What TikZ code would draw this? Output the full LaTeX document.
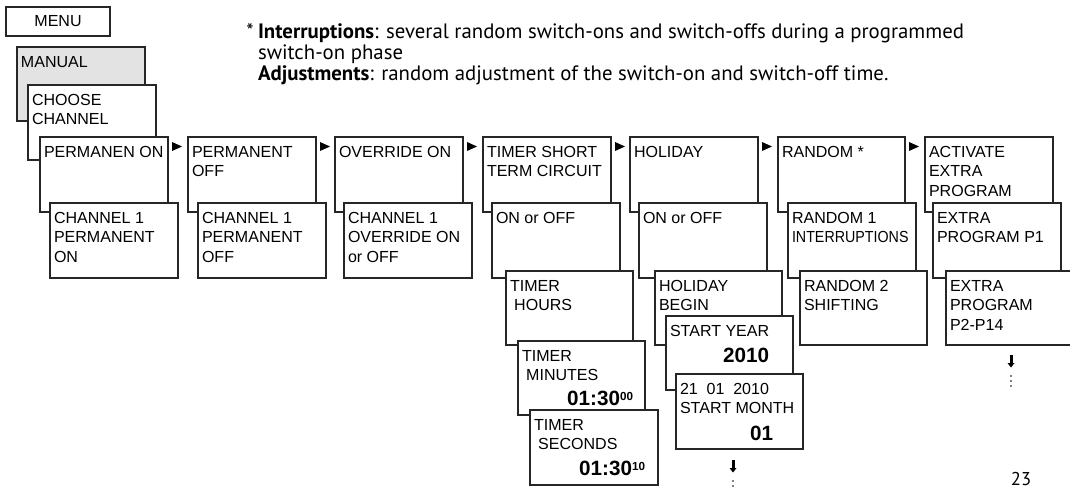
\documentclass[tikz,border=0pt]{standalone}
\usepackage{fontspec}
\usepackage{graphicx}
\setmainfont{Liberation Sans}
\newfontfamily\notefont{PT Sans}
\newcommand\bxfont{\fontsize{11.4}{13.9}\selectfont}
\newcommand\numfont{\fontsize{14.7}{16}\selectfont\bfseries}
\newcommand\supfont{\fontsize{8.3}{9}\selectfont\bfseries}
\newcommand\ntfont{\notefont\fontsize{14.8}{18}\selectfont}
\newcommand\pgfont{\notefont\fontsize{13.2}{16}\selectfont}
\tikzset{
  box/.style={draw=black!85, line width=0.9pt, fill=white, anchor=north west, inner sep=0pt, outer sep=0pt},
  graybox/.style={box, fill=black!11},
  txt/.style={anchor=north west, inner sep=0pt, outer sep=0pt, align=left, font=\bxfont},
  num/.style={anchor=base east, inner sep=0pt, outer sep=0pt, font=\numfont},
  note/.style={anchor=base west, inner sep=0pt, outer sep=0pt, font=\ntfont},
  tri/.style={fill=black},
}
% name, x, y, w, h, text, style
\newcommand\mybox[7][box]{%
  \node[#1, minimum width=#5*0.025cm, minimum height=#6*0.025cm] (#2) at (#3,#4) {};
  \node[txt] (#2-t) at ([shift={(4,9)}]#2.north west) {#7};}
\newcommand\nexttri[1]{%
  \fill[tri] ([shift={(4,5)}]#1.north east) -- ++(0,9) -- ++(10,-4.5) -- cycle;}
\newcommand\downmark[1]{%
  \fill ([shift={(-1.5,0)}]#1) rectangle ([shift={(1.5,8)}]#1);
  \fill ([shift={(-3.5,8)}]#1) -- ([shift={(3.5,8)}]#1) -- ([shift={(0,12.5)}]#1) -- cycle;
  \foreach \d in {21,26,31} {\fill ([shift={(0,\d)}]#1) circle (0.9);}}
\begin{document}
\begin{tikzpicture}[x=0.025cm, y=-0.025cm]
\useasboundingbox (0,0) rectangle (1070,488);
\begin{scope}
\clip (0,0) rectangle (1070,488);

% footnote
\node[anchor=base east, inner sep=0pt, font=\ntfont] (star) at (254,38) {*};
\node[note] (n1) at (258,38) {\textbf{Interruptions}: several random switch-ons and switch-offs during a programmed};
\node[note] (n2) at (258,59) {switch-on phase};
\node[note] (n3) at (258,80) {\textbf{Adjustments}: random adjustment of the switch-on and switch-off time.};

% menu
\node[box, minimum width=104*0.025cm, minimum height=29*0.025cm] (menu) at (6,7) {};
\node[font=\bxfont, inner sep=0pt] (menu-t) at (menu.center) {MENU};
\mybox[graybox]{manual}{17}{47}{128}{74}{MANUAL}
\mybox{choose}{28}{85}{128}{75}{CHOOSE\\CHANNEL}

% column 1
\mybox{m1}{40}{137}{128}{75}{PERMANEN ON}
\mybox{c1}{50}{203}{128}{75}{CHANNEL 1\\PERMANENT\\ON}
% column 2
\mybox{m2}{188}{137}{128}{75}{PERMANENT\\OFF}
\mybox{c2}{198}{203}{128}{75}{CHANNEL 1\\PERMANENT\\OFF}
% column 3
\mybox{m3}{335}{137}{128}{75}{OVERRIDE ON}
\mybox{c3}{344}{203}{128}{75}{CHANNEL 1\\OVERRIDE ON\\or OFF}
% column 4
\mybox{m4}{483}{137}{128}{75}{TIMER SHORT\\TERM CIRCUIT}
\mybox{c4}{492}{203}{128}{75}{ON or OFF}
\mybox{d4}{506}{271}{127}{74}{TIMER\\\hspace{3pt}HOURS}
\mybox{e4}{518}{341}{127}{74}{TIMER\\\hspace{3pt}MINUTES}
\node[num] (e4-n) at ([shift={(-12,64)}]e4.north east) {01:30\raisebox{3.3pt}{\supfont 00}};
\mybox{f4}{530}{410}{128}{75}{TIMER\\\hspace{3pt}SECONDS}
\node[num] (f4-n) at ([shift={(-13,65)}]f4.north east) {01:30\raisebox{3.3pt}{\supfont 10}};
% column 5
\mybox{m5}{630}{137}{128}{75}{HOLIDAY}
\mybox{c5}{639}{203}{128}{75}{ON or OFF}
\mybox{d5}{655}{271}{127}{74}{HOLIDAY\\BEGIN}
\mybox{e5}{666}{316}{127}{74}{START YEAR}
\node[num] (e5-n) at ([shift={(-24,46)}]e5.north east) {2010};
\mybox{f5}{676}{374}{127}{75}{21\hspace{0.55em}01\hspace{0.55em}2010\\START MONTH}
\node[num] (f5-n) at ([shift={(-30,66)}]f5.north east) {01};
\coordinate (f5-arrow) at ([shift={(57,11)}]f5.south west);
\downmark{f5-arrow}
% column 6
\mybox{m6}{778}{137}{127}{75}{RANDOM *}
\mybox{c6}{788}{203}{128}{75}{RANDOM 1\\\scalebox{0.89}[1]{INTERRUPTIONS}}
\mybox{d6}{800}{271}{127}{74}{RANDOM 2\\SHIFTING}
% column 7
\mybox{m7}{925}{137}{128}{75}{ACTIVATE\\EXTRA\\PROGRAM}
\mybox{c7}{933}{203}{128}{75}{EXTRA\\PROGRAM P1}
\mybox{d7}{946}{271}{128}{74}{EXTRA\\PROGRAM\\P2-P14}
\coordinate (d7-arrow) at ([shift={(65,10)}]d7.south west);
\downmark{d7-arrow}

% arrows between main boxes
\nexttri{m1}
\nexttri{m2}
\nexttri{m3}
\nexttri{m4}
\nexttri{m5}
\nexttri{m6}

% page number
\node[anchor=base, inner sep=0pt, font=\pgfont] (page) at (1021,485) {23};
\end{scope}
\end{tikzpicture}
\end{document}
